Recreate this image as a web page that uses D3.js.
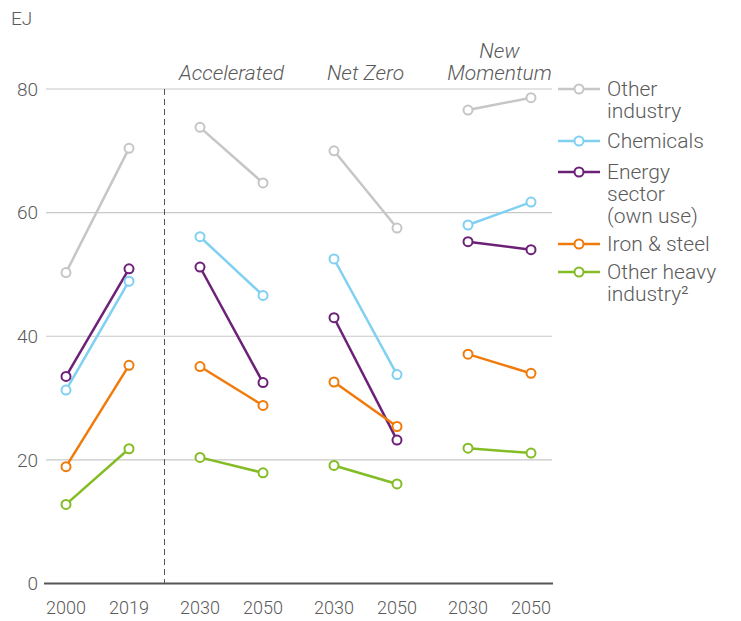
<!DOCTYPE html>
<html><head><meta charset="utf-8">
<script src="https://cdn.jsdelivr.net/npm/d3@7"></script>
<style>body{margin:0;background:#fff;}text{font-family:Roboto,"Liberation Sans",sans-serif;fill:#5a5a5a;font-weight:300;}</style>
</head><body><svg id="c" width="741" height="621"></svg>
<script>
const groups = ["History","Accelerated","Net Zero","New Momentum"];
const groupTitles = [[], ["Accelerated"], ["Net Zero"], ["New","Momentum"]];
const years = [["2000","2019"],["2030","2050"],["2030","2050"],["2030","2050"]];
const seriesNames = ["Other industry","Chemicals","Energy sector (own use)","Iron & steel","Other heavy industry²"];
const legendLines = [["Other","industry"],["Chemicals"],["Energy","sector","(own use)"],["Iron & steel"],["Other heavy","industry²"]];
const colors = ["#c6c6c6","#80d0f2","#6d2077","#f07a0a","#84bc26"];
// values per series: [group][year]
const otherIndustry = [[50.3,70.4],[73.8,64.8],[70.0,57.5],[76.6,78.6]];
const chemicals     = [[31.3,48.9],[56.1,46.6],[52.5,33.8],[58.0,61.7]];
const energySector  = [[33.5,50.9],[51.2,32.5],[43.0,23.2],[55.3,54.0]];
const ironSteel     = [[18.9,35.3],[35.1,28.8],[32.6,25.4],[37.1,34.0]];
const otherHeavy    = [[12.8,21.8],[20.4,17.9],[19.1,16.1],[21.9,21.1]];
const seriesValues = [otherIndustry, chemicals, energySector, ironSteel, otherHeavy];
const yTicks = [0,20,40,60,80];

const svg = d3.select("#c");
const y = d3.scaleLinear().domain([0,80]).range([583.5,89]);
const gx = d3.scaleBand().domain(groups).range([30.5,566.5]);
const ix = d3.scalePoint().domain([0,1]).range([-31.5,31.5]);
const px = (g,i) => gx(groups[g]) + gx.bandwidth()/2 + ix(i);

// gridlines
svg.append("g").selectAll("line").data(yTicks.filter(d=>d>0)).join("line")
  .attr("x1",46).attr("x2",552).attr("y1",d=>y(d)).attr("y2",d=>y(d))
  .attr("stroke","#c8c8c8").attr("stroke-width",1.2);
svg.append("line").attr("x1",44).attr("x2",553).attr("y1",y(0)).attr("y2",y(0))
  .attr("stroke","#555").attr("stroke-width",2);
svg.append("g").selectAll("text").data(yTicks).join("text")
  .attr("x",38).attr("y",d=>y(d)).attr("dy","0.35em").attr("text-anchor","end")
  .attr("font-size",19).text(d=>d);
svg.append("text").attr("x",11).attr("y",18).attr("dy","0.35em").attr("font-size",19).text("EJ");

// divider
const divX = (px(0,1)+px(1,0))/2;
svg.append("line").attr("x1",divX).attr("x2",divX).attr("y1",y(80)).attr("y2",y(0))
  .attr("stroke","#555").attr("stroke-width",1).attr("stroke-dasharray","6,4");

// x labels
years.forEach((ys,g)=>ys.forEach((t,i)=>{
  svg.append("text").attr("x",px(g,i)).attr("y",608).attr("dy","0.35em")
    .attr("text-anchor","middle").attr("font-size",18).text(t);
}));
// group titles
groupTitles.forEach((lines,g)=>{
  const cx = gx(groups[g]) + gx.bandwidth()/2;
  lines.forEach((l,k)=>{
    svg.append("text").attr("x",cx).attr("y",80 - (lines.length-1-k)*22)
      .attr("text-anchor","middle").attr("font-size",21).attr("font-style","italic").text(l);
  });
});

// series
seriesValues.forEach((vals,s)=>{
  vals.forEach((pair,g)=>{
    svg.append("line").attr("x1",px(g,0)).attr("x2",px(g,1)).attr("y1",y(pair[0])).attr("y2",y(pair[1]))
      .attr("stroke",colors[s]).attr("stroke-width",2.5);
  });
});
seriesValues.forEach((vals,s)=>{
  vals.forEach((pair,g)=>pair.forEach((v,i)=>{
    svg.append("circle").attr("cx",px(g,i)).attr("cy",y(v)).attr("r",4.5)
      .attr("fill","#fff").attr("stroke",colors[s]).attr("stroke-width",2);
  }));
});

// legend
const legY = [89,141,172,244,272];
legendLines.forEach((lines,s)=>{
  const ly = legY[s];
  svg.append("line").attr("x1",558).attr("x2",600).attr("y1",ly).attr("y2",ly)
    .attr("stroke",colors[s]).attr("stroke-width",2.5);
  svg.append("circle").attr("cx",579).attr("cy",ly).attr("r",4.5)
    .attr("fill","#fff").attr("stroke",colors[s]).attr("stroke-width",2);
  lines.forEach((l,k)=>{
    svg.append("text").attr("x",607).attr("y",ly + k*22).attr("dy","0.35em")
      .attr("font-size",21).text(l);
  });
});
</script></body></html>
